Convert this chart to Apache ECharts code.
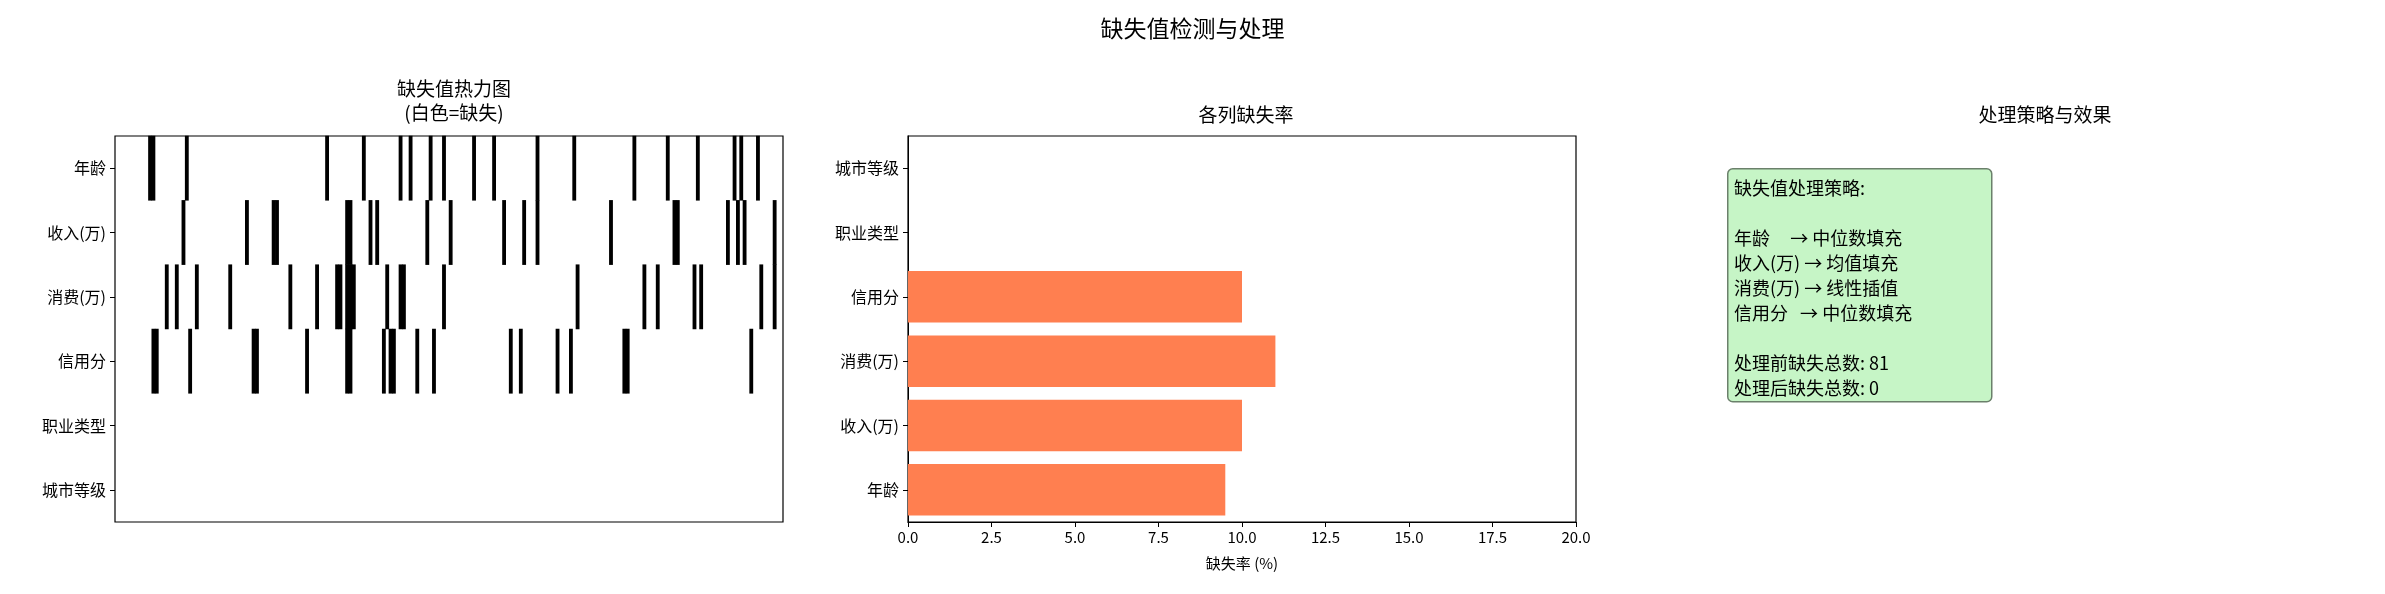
<!DOCTYPE html>
<html><head><meta charset="utf-8">
<script src="https://cdn.jsdelivr.net/npm/echarts@6/dist/echarts.min.js"></script>
<style>html,body{margin:0;background:#fff}#c{width:2385px;height:594px}</style>
</head><body><div id="c"></div>
<script>
const columns = ['年龄','收入(万)','消费(万)','信用分','职业类型','城市等级'];
const nRows = 200;
const missingIdx = {
  '年龄':[10,11,21,63,74,85,88,94,98,107,113,126,137,155,165,174,185,187,192],
  '收入(万)':[20,39,47,48,69,70,76,78,93,100,116,122,126,148,167,168,183,186,188,197],
  '消费(万)':[15,18,24,34,52,60,66,67,69,70,71,81,85,86,98,138,158,162,173,175,193,197],
  '信用分':[11,12,22,41,42,57,69,70,80,82,83,90,95,118,121,132,136,152,153,190],
  '职业类型':[],
  '城市等级':[]
};
const barCats = ['年龄','收入(万)','消费(万)','信用分','职业类型','城市等级'];
const missRate = [9.5,10.0,11.0,10.0,0,0];
const xTicks = [0,2.5,5,7.5,10,12.5,15,17.5,20];

const F = '"Noto Sans CJK SC", "DejaVu Sans", sans-serif';
const heat = [];
columns.forEach((c,ri)=>missingIdx[c].forEach(i=>heat.push([i,ri,1])));
const rowIdx = Array.from({length:nRows},(_,i)=>i);

const chart = echarts.init(document.getElementById('c'));
chart.setOption({
  animation:false,
  textStyle:{fontFamily:F},
  title:[
    {text:'缺失值检测与处理',left:'center',top:12,textStyle:{fontFamily:F,fontSize:23,fontWeight:'normal',color:'#000'}},
    {text:'缺失值热力图\n(白色=缺失)',left:449,top:72,textAlign:'center',textStyle:{fontFamily:F,fontSize:19,fontWeight:'normal',color:'#000',lineHeight:24}},
    {text:'各列缺失率',left:1241,top:100,textAlign:'center',textStyle:{fontFamily:F,fontSize:19,fontWeight:'normal',color:'#000'}},
    {text:'处理策略与效果',left:2040,top:100,textAlign:'center',textStyle:{fontFamily:F,fontSize:19,fontWeight:'normal',color:'#000'}}
  ],
  grid:[
    {left:115,top:136,width:668,height:386,show:true,borderColor:'#000',borderWidth:1.2,backgroundColor:'#fff'},
    {left:908,top:136,width:668,height:386,show:true,borderColor:'#000',borderWidth:1.2}
  ],
  xAxis:[
    {type:'category',gridIndex:0,data:rowIdx,axisLine:{show:false},axisTick:{show:false},axisLabel:{show:false},splitLine:{show:false}},
    {type:'value',gridIndex:1,min:0,max:20,interval:2.5,name:'缺失率 (%)',nameLocation:'middle',nameGap:34,
     nameTextStyle:{fontFamily:F,fontSize:15,color:'#000'},
     axisLine:{show:true,lineStyle:{color:'#000'}},axisTick:{show:true,length:5,lineStyle:{color:'#000'}},
     axisLabel:{fontFamily:F,fontSize:15,color:'#000',formatter:v=>xTicks.includes(v)?v.toFixed(1):''},splitLine:{show:false}}
  ],
  yAxis:[
    {type:'category',gridIndex:0,data:columns,inverse:true,axisLine:{show:false},axisTick:{show:true,alignWithLabel:true,length:5,lineStyle:{color:'#000'}},
     axisLabel:{fontFamily:F,fontSize:16,color:'#000',margin:9},splitLine:{show:false}},
    {type:'category',gridIndex:1,data:barCats,axisLine:{show:true,lineStyle:{color:'#000'}},axisTick:{show:true,alignWithLabel:true,length:5,lineStyle:{color:'#000'}},
     axisLabel:{fontFamily:F,fontSize:16,color:'#000',margin:9},splitLine:{show:false}}
  ],
  visualMap:{show:false,min:0,max:1,seriesIndex:0,inRange:{color:['#fff','#000']}},
  series:[
    {type:'heatmap',xAxisIndex:0,yAxisIndex:0,data:heat,itemStyle:{borderWidth:0}},
    {type:'bar',xAxisIndex:1,yAxisIndex:1,data:missRate,barWidth:'80%',itemStyle:{color:'#FF7F50'}}
  ],
  graphic:[
    {type:'rect',left:1727,top:168,shape:{width:264,height:233,r:5},style:{fill:'#c6f5c6',stroke:'#6b806b',lineWidth:1.5}},
    {type:'text',left:1734,top:176,style:{text:'缺失值处理策略:\n\n年龄     → 中位数填充\n收入(万) → 均值填充\n消费(万) → 线性插值\n信用分   → 中位数填充\n\n处理前缺失总数: 81\n处理后缺失总数: 0',
      font:'18px '+F,fill:'#000',lineHeight:25}}
  ]
});
</script></body></html>
